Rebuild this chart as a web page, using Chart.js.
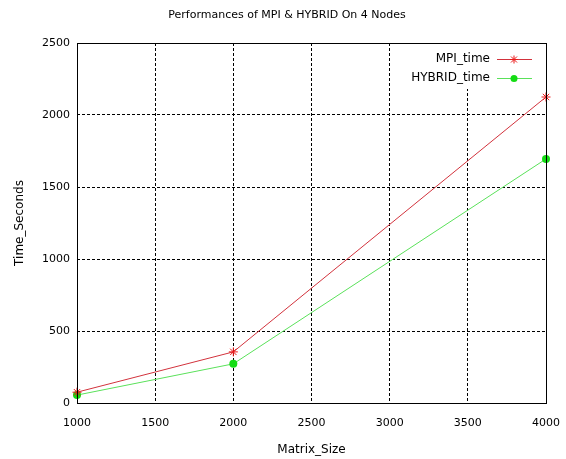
<!DOCTYPE html>
<html>
<head>
<meta charset="utf-8">
<script src="https://cdn.jsdelivr.net/npm/chart.js@4/dist/chart.umd.min.js"></script>
<style>
  html, body { margin: 0; padding: 0; background: #fff; }
  #wrap { width: 566px; height: 459px; }
</style>
</head>
<body>
<div id="wrap"><canvas id="myChart" width="566" height="459"></canvas></div>
<script>
// data
var matrix_size = [1000, 2000, 4000];
var mpi_time = [75, 355, 2125];
var hybrid_time = [55, 272, 1695];
var x_ticks = [1000, 1500, 2000, 2500, 3000, 3500, 4000];
var y_ticks = [0, 500, 1000, 1500, 2000, 2500];

var FONT = "'DejaVu Sans', sans-serif";
var redLine = "rgb(210,50,60)";
var redMark = "rgb(235,25,25)";
var greenLine = "rgb(90,225,90)";
var greenMark = "rgb(20,220,20)";

function toPoints(xs, ys) {
  return xs.map(function (x, i) { return { x: x, y: ys[i] }; });
}

// gnuplot style key, blanks the grid behind it
var keyPlugin = {
  id: 'key',
  beforeDatasetsDraw: function (chart) {
    var c = chart.ctx, a = chart.chartArea;
    c.save();
    c.fillStyle = '#fff';
    c.fillRect(405, a.top + 1, a.right - 405 - 1, 88 - a.top);
    c.restore();
  },
  afterDraw: function (chart) {
    var c = chart.ctx, a = chart.chartArea;
    c.save();
    c.strokeStyle = '#000';
    c.lineWidth = 1;
    c.setLineDash([]);
    c.strokeRect(Math.round(a.left) + 0.5, Math.round(a.top) + 0.5,
      Math.round(a.right - a.left), Math.round(a.bottom - a.top));

    c.font = '12px ' + FONT;
    c.textAlign = 'right';
    c.textBaseline = 'middle';
    var items = [
      { label: 'MPI_time', line: redLine, mark: redMark, y: 59, star: true },
      { label: 'HYBRID_time', line: greenLine, mark: greenMark, y: 78, star: false }
    ];
    items.forEach(function (it) {
      c.fillStyle = '#000';
      c.fillText(it.label, 490, it.y);
      c.strokeStyle = it.line;
      c.beginPath();
      c.moveTo(497, it.y + 0.5);
      c.lineTo(532, it.y + 0.5);
      c.stroke();
      if (it.star) {
        c.strokeStyle = it.mark;
        c.beginPath();
        var r = 4, mx = 514, my = it.y + 0.5;
        c.moveTo(mx - r, my); c.lineTo(mx + r, my);
        c.moveTo(mx, my - r); c.lineTo(mx, my + r);
        c.moveTo(mx - 3, my - 3); c.lineTo(mx + 3, my + 3);
        c.moveTo(mx - 3, my + 3); c.lineTo(mx + 3, my - 3);
        c.stroke();
      } else {
        c.fillStyle = it.mark;
        c.beginPath();
        c.arc(514, it.y + 0.5, 3.5, 0, Math.PI * 2);
        c.fill();
      }
    });

    // title
    c.fillStyle = '#000';
    c.font = '11px ' + FONT;
    c.textAlign = 'center';
    c.fillText('Performances of MPI & HYBRID On 4 Nodes', 287, 15);
    c.restore();
  }
};

var ctx = document.getElementById('myChart').getContext('2d');
var myChart = new Chart(ctx, {
  type: 'scatter',
  data: {
    datasets: [
      {
        label: 'MPI_time',
        data: toPoints(matrix_size, mpi_time),
        showLine: true,
        clip: false,
        borderColor: redLine,
        backgroundColor: redMark,
        pointBorderColor: redMark,
        borderWidth: 1,
        pointStyle: 'star',
        pointRadius: 4.5,
        pointBorderWidth: 1
      },
      {
        label: 'HYBRID_time',
        data: toPoints(matrix_size, hybrid_time),
        showLine: true,
        clip: false,
        borderColor: greenLine,
        backgroundColor: greenMark,
        borderWidth: 1,
        pointStyle: 'circle',
        pointRadius: 4,
        pointBorderWidth: 0
      }
    ]
  },
  options: {
    responsive: false,
    animation: false,
    layout: { padding: { top: 43, right: 20, left: 0, bottom: 0 } },
    plugins: {
      legend: { display: false },
      tooltip: { enabled: false },
      title: { display: false }
    },
    scales: {
      x: {
        type: 'linear',
        min: 1000,
        max: 4000,
        afterBuildTicks: function (s) { s.ticks = x_ticks.map(function (v) { return { value: v }; }); },
        afterFit: function (s) { s.height = 56; s.paddingLeft = 0; s.paddingRight = 0; },
        grid: { color: '#000', lineWidth: 1, drawTicks: false },
        border: { display: false, dash: [3, 2] },
        ticks: {
          color: '#000', font: { family: FONT, size: 11 }, padding: 14, maxRotation: 0,
          callback: function (v) { return String(v); }
        },
        title: { display: true, text: 'Matrix_Size', color: '#000', font: { family: FONT, size: 12 }, padding: { top: 0, bottom: 2 } }
      },
      y: {
        type: 'linear',
        min: 0,
        max: 2500,
        afterBuildTicks: function (s) { s.ticks = y_ticks.map(function (v) { return { value: v }; }); },
        afterFit: function (s) { s.width = 77; s.paddingTop = 0; s.paddingBottom = 0; },
        grid: { color: '#000', lineWidth: 1, drawTicks: false },
        border: { display: false, dash: [3, 2] },
        ticks: {
          color: '#000', font: { family: FONT, size: 11 }, padding: 7,
          callback: function (v) { return String(v); }
        },
        title: { display: true, text: 'Time_Seconds', color: '#000', font: { family: FONT, size: 12 }, padding: { top: 13, bottom: 0 } }
      }
    }
  },
  plugins: [keyPlugin]
});
</script>
</body>
</html>
